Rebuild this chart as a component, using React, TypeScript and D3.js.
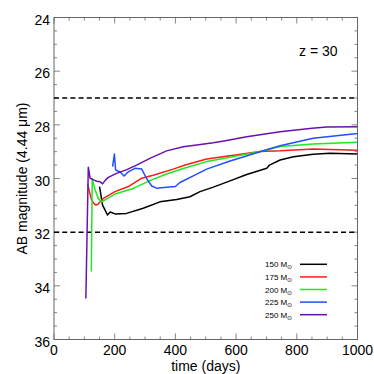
import React from "react";
import * as d3 from "d3";

const xTicks = [0, 200, 400, 600, 800, 1000];
const yTicks = [24, 26, 28, 30, 32, 34, 36];
const dashedLevels = [27, 32];

const t150 = [150, 160, 168, 176, 185, 201, 239, 294, 349, 404, 448, 481, 525, 580, 635, 701, 710, 745, 789, 854, 909, 1000];
const m150 = [30.3, 30.99, 31.17, 31.36, 31.25, 31.32, 31.3, 31.11, 30.87, 30.78, 30.68, 30.49, 30.32, 30.09, 29.85, 29.62, 29.5, 29.31, 29.19, 29.1, 29.06, 29.09];

const t175 = [111, 118, 124, 131, 138, 145, 152, 163, 201, 245, 289, 327, 393, 432, 503, 580, 679, 745, 854, 1000];
const m175 = [30.2, 30.55, 30.8, 30.93, 30.99, 30.96, 30.87, 30.74, 30.49, 30.3, 29.99, 29.88, 29.65, 29.5, 29.27, 29.15, 28.99, 28.97, 28.9, 28.95];

const t200 = [123, 126, 130, 135, 146, 157, 201, 261, 316, 371, 426, 503, 580, 679, 745, 854, 1000];
const m200 = [33.47, 30.0, 30.2, 30.4, 30.75, 30.87, 30.58, 30.37, 30.08, 29.83, 29.63, 29.37, 29.21, 28.99, 28.81, 28.71, 28.65];

const t225 = [193, 199, 203, 210, 217, 231, 245, 267, 289, 305, 322, 338, 371, 400, 415, 459, 503, 580, 679, 745, 854, 1000];
const m225 = [29.56, 29.09, 29.68, 29.72, 29.75, 29.91, 29.75, 29.62, 29.65, 30.0, 30.28, 30.36, 30.33, 30.3, 30.15, 29.9, 29.65, 29.35, 29.0, 28.78, 28.5, 28.32];

const t250 = [105, 113, 119, 130, 141, 152, 160, 170, 179, 206, 240, 272, 316, 371, 426, 470, 525, 560, 635, 745, 850, 899, 1000];
const m250 = [34.47, 29.58, 29.99, 30.05, 30.1, 30.12, 30.2, 30.05, 29.96, 29.81, 29.67, 29.5, 29.25, 28.97, 28.82, 28.75, 28.67, 28.6, 28.44, 28.26, 28.13, 28.08, 28.07];

const seriesLabels = ["150", "175", "200", "225", "250"];
const seriesT = [t150, t175, t200, t225, t250];
const seriesM = [m150, m175, m200, m225, m250];
const colors = ["#000000", "#ff1a1a", "#1ee81e", "#1f4fff", "#6a10b0"];

export default function App() {
  const W = 374, H = 374;
  const left = 54, right = 357.5, top = 17.5, bottom = 339.5;
  const x = d3.scaleLinear().domain([0, 1000]).range([left, right]);
  const y = d3.scaleLinear().domain([24, 36]).range([top, bottom]);
  const line = d3.line<[number, number]>().x(d => x(d[0])).y(d => y(d[1]));
  const font = "'Liberation Sans', Arial, Helvetica, sans-serif";
  const axisColor = "#666";

  const xMinor = d3.range(0, 1001, 50);
  const yMinor = d3.range(24, 36.01, 0.5);

  return (
    <svg width={W} height={H} style={{ position: "absolute", left: 0, top: 0 }} fontFamily={font}>
      <rect x={0} y={0} width={W} height={H} fill="#fff" />
      <defs>
        <clipPath id="plot">
          <rect x={left} y={top} width={right - left} height={bottom - top} />
        </clipPath>
      </defs>
      {/* ticks */}
      {xMinor.map(v => {
        const major = v % 200 === 0;
        const len = major ? 6 : 3;
        return (
          <g key={"xt" + v} stroke={axisColor} strokeWidth={0.8}>
            <line x1={x(v)} x2={x(v)} y1={bottom} y2={bottom - len} />
            <line x1={x(v)} x2={x(v)} y1={top} y2={top + len} />
          </g>
        );
      })}
      {yMinor.map(v => {
        const major = Math.abs(v % 2) < 1e-6;
        const len = major ? 6 : 3;
        return (
          <g key={"yt" + v} stroke={axisColor} strokeWidth={0.8}>
            <line x1={left} x2={left + len} y1={y(v)} y2={y(v)} />
            <line x1={right} x2={right - len} y1={y(v)} y2={y(v)} />
          </g>
        );
      })}
      <rect x={left} y={top} width={right - left} height={bottom - top} fill="none" stroke={axisColor} strokeWidth={1} />
      {/* tick labels */}
      {xTicks.map(v => (
        <text key={"xl" + v} x={x(v)} y={354.5} fontSize={14} textAnchor="middle" fill="#000">{v}</text>
      ))}
      {yTicks.map(v => (
        <text key={"yl" + v} x={50} y={y(v) + 7} fontSize={14} textAnchor="end" fill="#000">{v}</text>
      ))}
      <text x={(left + right) / 2} y={370.5} fontSize={14} textAnchor="middle" fill="#000">time (days)</text>
      <text transform={`translate(27,${(top + bottom) / 2}) rotate(-90)`} fontSize={14} textAnchor="middle" fill="#000">AB magnitude (4.44 μm)</text>
      {/* dashed limits */}
      {dashedLevels.map(v => (
        <line key={"d" + v} x1={left} x2={right} y1={y(v)} y2={y(v)} stroke="#000" strokeWidth={1.5} strokeDasharray="5,3.2" />
      ))}
      {/* curves */}
      <g clipPath="url(#plot)">
        {seriesT.map((ts, i) => {
          const pts = ts.map((t, j) => [t, seriesM[i][j]] as [number, number]);
          return <path key={"s" + i} d={line(pts) || ""} fill="none" stroke={colors[i]} strokeWidth={1.5} strokeLinejoin="round" />;
        })}
      </g>
      <text x={299} y={56} fontSize={14} fill="#000">z = 30</text>
      {/* legend */}
      {seriesLabels.map((lab, i) => {
        const ly = 264.3 + i * 12.6;
        return (
          <g key={"lg" + i}>
            <text x={265} y={ly + 3} fontSize={8} fill="#000">
              {lab} M<tspan fontSize={5.5} dy={2}>⊙</tspan>
            </text>
            <line x1={300} x2={327} y1={ly} y2={ly} stroke={colors[i]} strokeWidth={1.5} />
          </g>
        );
      })}
    </svg>
  );
}
